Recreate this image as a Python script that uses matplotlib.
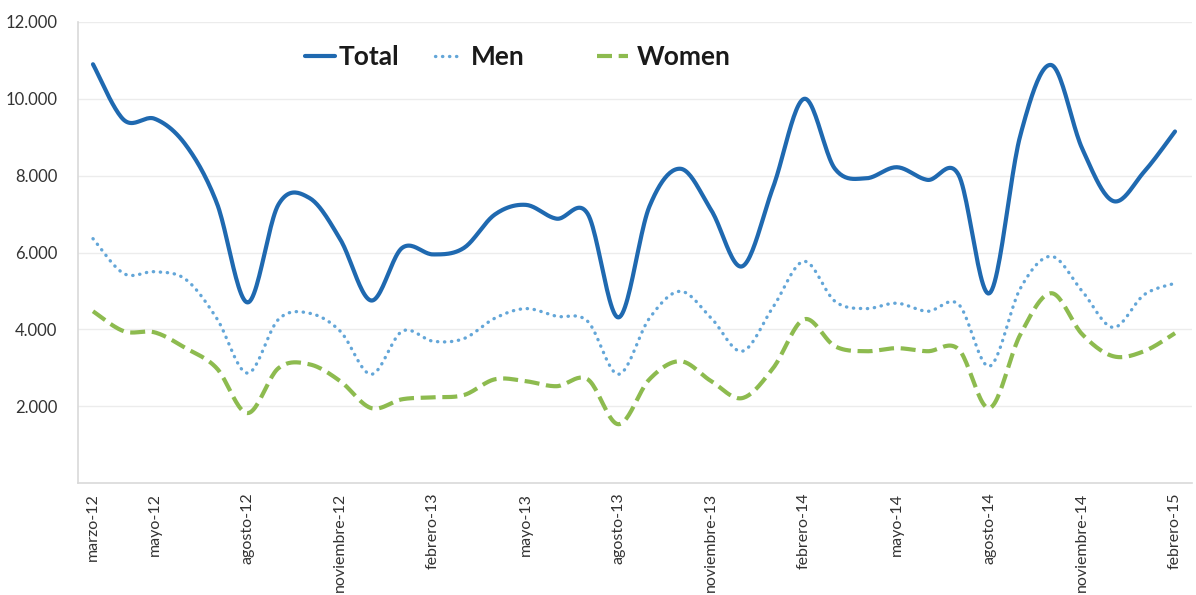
import numpy as np
import matplotlib
matplotlib.use("Agg")
import matplotlib.pyplot as plt
from matplotlib.lines import Line2D

# Monthly series, marzo-12 .. febrero-15
months = ["marzo-12", "abril-12", "mayo-12", "junio-12", "julio-12", "agosto-12",
          "septiembre-12", "octubre-12", "noviembre-12", "diciembre-12", "enero-13", "febrero-13",
          "marzo-13", "abril-13", "mayo-13", "junio-13", "julio-13", "agosto-13",
          "septiembre-13", "octubre-13", "noviembre-13", "diciembre-13", "enero-14", "febrero-14",
          "marzo-14", "abril-14", "mayo-14", "junio-14", "julio-14", "agosto-14",
          "septiembre-14", "octubre-14", "noviembre-14", "diciembre-14", "enero-15", "febrero-15"]

total = [10900, 9450, 9480, 8800, 7300, 4700, 7250, 7420, 6340, 4750, 6120, 5950,
         6120, 6990, 7240, 6880, 7010, 4310, 7200, 8180, 7100, 5640, 7700, 10000,
         8180, 7930, 8220, 7890, 8020, 4940, 9060, 10880, 8700, 7340, 8100, 9150]

men = [6360, 5450, 5500, 5300, 4290, 2860, 4260, 4420, 3950, 2830, 3950, 3690,
       3760, 4290, 4540, 4340, 4210, 2830, 4290, 4990, 4290, 3430, 4580, 5770,
       4730, 4540, 4680, 4470, 4650, 3040, 5070, 5900, 4990, 4050, 4900, 5200]

women = [4470, 3950, 3920, 3510, 2990, 1820, 2990, 3090, 2650, 1950, 2180, 2230,
         2290, 2700, 2650, 2520, 2700, 1530, 2700, 3170, 2650, 2210, 2990, 4260,
         3560, 3430, 3510, 3430, 3480, 1950, 3870, 4940, 3870, 3300, 3430, 3900]

tick_idx = [0, 2, 5, 8, 11, 14, 17, 20, 23, 26, 29, 32, 35]
y_ticks = [2000, 4000, 6000, 8000, 10000, 12000]
y_tick_labels = ["2.000", "4.000", "6.000", "8.000", "10.000", "12.000"]

series_names = ["Total", "Men", "Women"]


def smooth(values, steps=24):
    """Bezier smoothing through every point (Catmull-Rom style control points)."""
    x = np.arange(len(values), dtype=float)
    y = np.asarray(values, dtype=float)
    pts = np.column_stack([x, y])
    n = len(pts)
    out = [pts[0]]
    t = np.linspace(0, 1, steps + 1)[1:, None]
    for i in range(n - 1):
        p0 = pts[max(i - 1, 0)]
        p1 = pts[i]
        p2 = pts[i + 1]
        p3 = pts[min(i + 2, n - 1)]
        c1 = p1 + (p2 - p0) / 6.0
        c2 = p2 - (p3 - p1) / 6.0
        seg = ((1 - t) ** 3) * p1 + 3 * ((1 - t) ** 2) * t * c1 + 3 * (1 - t) * t ** 2 * c2 + t ** 3 * p2
        out.extend(seg)
    out = np.array(out)
    return out[:, 0], out[:, 1]


plt.rcParams["font.family"] = ["Lato", "DejaVu Sans"]

fig = plt.figure(figsize=(11.96, 5.95), dpi=100)
W, H = 1196, 595
ax = fig.add_axes([78 / W, 1 - 483 / H, (1192 - 78) / W, (483 - 22) / H])

c_total = "#1f69b0"
c_men = "#63a6d8"
c_women = "#8dbb4f"

style = {
    "Total": dict(color=c_total, lw=3.0, linestyle="-", solid_capstyle="round"),
    "Men": dict(color=c_men, lw=2.4, linestyle=(0, (0.1, 2.0)), dash_capstyle="round"),
    "Women": dict(color=c_women, lw=3.0, linestyle=(0, (3.6, 1.6)), dash_capstyle="butt"),
}

for name, vals in zip(series_names, [total, men, women]):
    xs, ys = smooth(vals)
    ax.plot(xs, ys, zorder=3, **style[name])

ax.set_xlim(-0.485, 35.55)
ax.set_ylim(0, 12000)

ax.set_yticks(y_ticks)
ax.set_yticklabels(y_tick_labels)
ax.set_xticks(tick_idx)
ax.set_xticklabels([months[i] for i in tick_idx], rotation=90, va="top", ha="center")

ax.tick_params(axis="both", length=0, labelcolor="#333333")
ax.tick_params(axis="y", pad=15, labelsize=12)
ax.tick_params(axis="x", pad=7, labelsize=11.5)

ax.grid(axis="y", color="#ececec", lw=1.0, zorder=0)
for s in ["top", "right"]:
    ax.spines[s].set_visible(False)
for s in ["left", "bottom"]:
    ax.spines[s].set_color("#d9d9d9")
    ax.spines[s].set_linewidth(1.2)

# legend entries placed individually along the top
legend_pos = {"Total": 305, "Men": 435, "Women": 597}
handle_len = {"Total": 30, "Men": 28, "Women": 31}
text_gap = {"Total": 4, "Men": 8, "Women": 9}
fs = 19
for name in series_names:
    h = Line2D([], [], **style[name])
    leg = fig.legend([h], [name], loc="center left",
                     bbox_to_anchor=(legend_pos[name] / W, 1 - 57 / H),
                     frameon=False, borderpad=0, borderaxespad=0,
                     handlelength=handle_len[name] * 0.72 / fs,
                     handletextpad=text_gap[name] * 0.72 / fs,
                     prop={"weight": "bold", "size": fs})
    for txt in leg.get_texts():
        txt.set_color("#1a1a1a")

fig.savefig("out.png", dpi=100, facecolor="white")
